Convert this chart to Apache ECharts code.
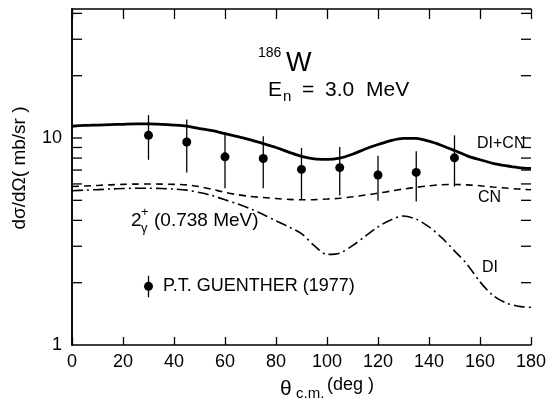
<!DOCTYPE html>
<html><head><meta charset="utf-8">
<script src="https://cdn.jsdelivr.net/npm/echarts@6/dist/echarts.min.js"></script>
<style>html,body{margin:0;padding:0;background:#fff}#c{width:549px;height:400px}</style>
</head><body><div id="c"></div>
<script>
// ---- data ----
const angles = [0,5,10,15,20,25,30,35,40,45,50,55,60,65,70,75,80,85,90,95,100,105,110,115,120,125,130,135,140,145,150,155,160,165,170,175,180];
const diCn = [11.4,11.5,11.55,11.6,11.65,11.7,11.7,11.65,11.55,11.4,11.1,10.85,10.5,10.15,9.8,9.4,9.0,8.55,8.15,7.92,7.88,8.0,8.35,8.85,9.3,9.72,9.97,9.95,9.65,9.2,8.7,8.2,7.85,7.55,7.35,7.2,7.13];
const cn = [5.83,5.86,5.9,5.94,5.97,5.99,6.0,5.99,5.97,5.94,5.82,5.65,5.46,5.32,5.22,5.16,5.1,5.05,5.03,5.04,5.07,5.12,5.2,5.3,5.41,5.54,5.67,5.78,5.87,5.95,5.96,5.94,5.88,5.8,5.73,5.67,5.62];
const di = [5.56,5.6,5.63,5.67,5.7,5.72,5.72,5.7,5.67,5.6,5.45,5.27,5.03,4.8,4.55,4.27,3.98,3.72,3.45,3.02,2.74,2.78,3.02,3.35,3.72,4.02,4.2,4.05,3.72,3.3,2.85,2.45,2.02,1.74,1.6,1.54,1.52];

const expAngle = [30,45,60,75,90,105,120,135,150];
const expValue = [10.3,9.57,8.11,7.96,7.05,7.19,6.63,6.82,8.02];
const expLow   = [7.85,6.82,5.72,5.72,5.05,5.28,4.98,4.94,5.83];
const expHigh  = [12.9,12.3,10.5,10.2,8.96,9.06,8.2,8.64,10.3];

const legendAngle = 30, legendValue = 1.92, legendLow = 1.70, legendHigh = 2.16;
const legendText = 'P.T. GUENTHER (1977)';

const xTickLabels = [0,20,40,60,80,100,120,140,160,180];
const yTickLabels = [1,10];
const yMinorTicks = [2,3,4,5,6,7,8,9,10,20,30,40];

// ---- chart ----
const FF = 'Liberation Sans';
const INK = '#000';
const chart = echarts.init(document.getElementById('c'), null, {renderer:'canvas'});

function txt(x, y, text, size, extra){
  return Object.assign({type:'text', x:x, y:y, style:{text:text, font:size+'px "'+FF+'"', fill:INK, align:'left', verticalAlign:'middle'}}, extra||{});
}

const option = {
  animation:false,
  backgroundColor:'#fff',
  grid:{left:72, right:12, top:9, bottom:55},
  xAxis:[{
    type:'value', min:0, max:180, interval:20,
    axisLine:{show:true, lineStyle:{color:'#000', width:1.5}},
    axisTick:{show:true, inside:true, length:8, lineStyle:{color:'#000', width:1.3}},
    axisLabel:{show:true, margin:8, fontSize:18, fontFamily:FF, color:INK,
      formatter:v=> xTickLabels.indexOf(v)>=0 ? String(v) : ''},
    splitLine:{show:false}
  },{
    type:'value', min:0, max:180, interval:20, position:'top',
    axisLine:{show:true, lineStyle:{color:'#000', width:1.5}},
    axisTick:{show:true, inside:true, length:10, lineStyle:{color:'#000', width:1.3}},
    axisLabel:{show:false}, splitLine:{show:false}
  }],
  yAxis:[{
    type:'log', logBase:10, min:1, max:42,
    axisLine:{show:true, lineStyle:{color:'#000', width:1.5}},
    axisTick:{show:false},
    axisLabel:{show:true, margin:10, fontSize:18, fontFamily:FF, color:INK, padding:[0,0,14,0],
      formatter:v=> yTickLabels.indexOf(Math.round(v))>=0 && Math.abs(v-Math.round(v))<1e-6 ? String(Math.round(v)) : ''},
    splitLine:{show:false}, minorSplitLine:{show:false}
  },{
    type:'log', logBase:10, min:1, max:42, position:'right',
    axisLine:{show:true, lineStyle:{color:'#000', width:1.5}},
    axisTick:{show:false}, axisLabel:{show:false}, splitLine:{show:false}
  }],
  graphic:[
    txt(258, 53, '186', 14),
    txt(286, 64, 'W', 27),
    txt(268, 90, 'E', 21),
    txt(283, 97, 'n', 15),
    txt(302, 90, '=', 21),
    txt(325, 90, '3.0', 21),
    txt(366, 90, 'MeV', 21),
    txt(131, 221, '2', 19),
    txt(141, 212, '+', 13),
    txt(141, 228, 'γ', 13),
    txt(154, 221, '(0.738 MeV)', 19),
    txt(477, 144, 'DI+CN', 16),
    txt(478, 198, 'CN', 16),
    txt(482, 268, 'DI', 16),
    txt(280, 389, 'θ', 21),
    txt(296, 394, 'c.m.', 15),
    txt(327, 385, '(deg )', 18),
    {type:'text', x:20, y:168, rotation:Math.PI/2,
      style:{text:'dσ/dΩ( mb/sr )', font:'19px "'+FF+'"', fill:INK, align:'center', verticalAlign:'middle'}}
  ],
  series:[
    {type:'line', name:'DI+CN', data:angles.map((a,i)=>[a,diCn[i]]), smooth:0.3, symbol:'none',
      lineStyle:{color:'#000', width:2.8}, z:3},
    {type:'line', name:'CN', data:angles.map((a,i)=>[a,cn[i]]), smooth:0.3, symbol:'none',
      lineStyle:{color:'#000', width:1.6, type:[7,5]}, z:3},
    {type:'line', name:'DI', data:angles.map((a,i)=>[a,di[i]]), smooth:0.3, symbol:'none',
      lineStyle:{color:'#000', width:1.6, type:[11,4,2,4]}, z:3},
    {type:'custom', name:'err',
      data:expAngle.map((a,i)=>[a,expLow[i],expHigh[i]]).concat([[legendAngle,legendLow,legendHigh]]),
      encode:{x:0, y:[1,2]},
      renderItem:(params, api)=>{
        const p1 = api.coord([api.value(0), api.value(1)]);
        const p2 = api.coord([api.value(0), api.value(2)]);
        return {type:'line', shape:{x1:p1[0], y1:p1[1], x2:p2[0], y2:p2[1]}, style:{stroke:'#000', lineWidth:1.3}};
      }, z:4},
    {type:'scatter', name:'exp', data:expAngle.map((a,i)=>[a,expValue[i]]), symbol:'circle', symbolSize:9,
      itemStyle:{color:'#000', opacity:1}, z:5},
    {type:'scatter', name:'legend', data:[[legendAngle, legendValue]], symbol:'circle', symbolSize:9,
      itemStyle:{color:'#000', opacity:1}, z:5,
      label:{show:true, position:'right', distance:10, formatter:legendText, fontSize:18, fontFamily:FF, color:'#000', opacity:1, textBorderWidth:0}},
    {type:'custom', name:'yticks', data:yMinorTicks.map(v=>[0,v]), encode:{x:0, y:1},
      renderItem:(params, api)=>{
        const v = api.value(1);
        const pl = api.coord([0, v]);
        const pr = api.coord([180, v]);
        return {type:'group', children:[
          {type:'line', shape:{x1:pl[0], y1:pl[1], x2:pl[0]+10, y2:pl[1]}, style:{stroke:'#000', lineWidth:1.3}},
          {type:'line', shape:{x1:pr[0]-10, y1:pr[1], x2:pr[0], y2:pr[1]}, style:{stroke:'#000', lineWidth:1.3}}
        ]};
      }, z:2}
  ]
};
chart.setOption(option);
</script></body></html>
